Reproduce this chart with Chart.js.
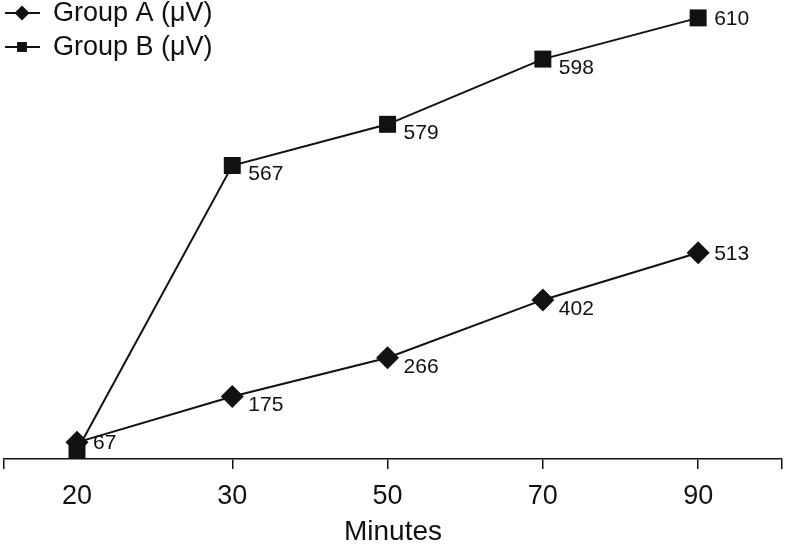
<!DOCTYPE html>
<html>
<head>
<meta charset="utf-8">
<script src="https://cdn.jsdelivr.net/npm/chart.js"></script>
<style>
  html, body { margin: 0; padding: 0; background: #fff; }
  #wrap { width: 785px; height: 546px; position: relative; }
</style>
</head>
<body>
<div id="wrap"><canvas id="chart"></canvas></div>
<script>
// Data
const minutes = ['20', '30', '50', '70', '90'];
const groupA = [67, 175, 266, 402, 513];
const groupB = [484, 567, 579, 598, 610];   // first value not printed, estimated from its height
const labelsA = ['67', '175', '266', '402', '513'];
const labelsB = ['', '567', '579', '598', '610'];
const seriesNames = ['Group A (\u03bcV)', 'Group B (\u03bcV)'];

const ink = '#111';
const FONT = '"Liberation Sans", Arial, sans-serif';

// Numbers printed next to each marker
const valueLabels = {
    id: 'valueLabels',
    afterDatasetsDraw(chart) {
        const ctx = chart.ctx;
        const texts = [labelsA, labelsB];
        ctx.save();
        ctx.fillStyle = ink;
        ctx.font = '21px ' + FONT;
        ctx.textBaseline = 'middle';
        ctx.textAlign = 'left';
        chart.data.datasets.forEach((ds, i) => {
            const pts = chart.getDatasetMeta(i).data;
            pts.forEach((p, j) => {
                const t = texts[i][j];
                if (!t) return;
                const end = j === 0 || j === pts.length - 1;
                ctx.fillText(t, p.x + 16, p.y + (end ? 1 : 9));
            });
        });
        ctx.restore();
    }
};

// Legend in the top-left corner: a short line with the marker on it
const cornerLegend = {
    id: 'cornerLegend',
    afterDraw(chart) {
        const ctx = chart.ctx;
        ctx.save();
        chart.data.datasets.forEach((ds, i) => {
            const y = 13 + i * 34;
            ctx.strokeStyle = ink;
            ctx.lineWidth = 2;
            ctx.beginPath();
            ctx.moveTo(5, y);
            ctx.lineTo(40, y);
            ctx.stroke();
            ctx.fillStyle = ink;
            Chart.helpers.drawPoint(ctx, {
                pointStyle: ds.pointStyle,
                radius: i === 0 ? 7.5 : 7,
                borderWidth: 0,
                rotation: 0
            }, 22, y);
            ctx.fillStyle = ink;
            ctx.font = '27px ' + FONT;
            ctx.textBaseline = 'middle';
            ctx.fillText(seriesNames[i], 53, y + 1);
        });
        ctx.restore();
    }
};

const xMin = -0.47, xMax = 4.54;

new Chart(document.getElementById('chart'), {
    type: 'line',
    data: {
        datasets: [
            {
                label: seriesNames[0],
                data: groupA.map((v, i) => ({ x: i, y: v })),
                yAxisID: 'yA',
                borderColor: ink,
                borderWidth: 2,
                pointStyle: 'rectRot',
                pointRadius: 11.5,
                pointBackgroundColor: ink,
                pointBorderWidth: 0,
                clip: false,
                tension: 0
            },
            {
                label: seriesNames[1],
                data: groupB.map((v, i) => ({ x: i, y: v })),
                yAxisID: 'yB',
                borderColor: ink,
                borderWidth: 2,
                pointStyle: 'rect',
                pointRadius: 12,
                pointBackgroundColor: ink,
                pointBorderWidth: 0,
                clip: false,
                tension: 0
            }
        ]
    },
    options: {
        responsive: true,
        maintainAspectRatio: false,
        animation: false,
        layout: { autoPadding: false, padding: { left: 4, right: 3, top: 10, bottom: 0 } },
        plugins: {
            legend: { display: false },
            tooltip: { enabled: false }
        },
        scales: {
            x: {
                type: 'linear',
                min: xMin,
                max: xMax,
                afterBuildTicks: s => {
                    s.ticks = [xMin, 0, 1, 2, 3, 4, xMax].map(v => ({ value: v }));
                },
                afterFit: s => {
                    s.height = 87;
                    s.paddingLeft = 0;
                    s.paddingRight = 0;
                },
                border: { display: true, color: ink, width: 1.5 },
                grid: {
                    drawOnChartArea: false,
                    drawTicks: true,
                    tickLength: 10,
                    lineWidth: 1.5,
                    color: c => (c.tick && c.tick.value === 0 ? 'rgba(0,0,0,0)' : ink)
                },
                ticks: {
                    autoSkip: false,
                    maxRotation: 0,
                    color: ink,
                    padding: 11,
                    font: { family: FONT, size: 27 },
                    callback: v => (Number.isInteger(v) ? minutes[v] : '')
                },
                title: {
                    display: true,
                    text: 'Minutes',
                    color: ink,
                    font: { family: FONT, size: 28, lineHeight: 1.0 },
                    padding: { top: 0, bottom: 0 }
                }
            },
            yA: {
                display: false,
                min: 27.8,
                max: 1084
            },
            yB: {
                display: false,
                min: 481.5,
                max: 612.3
            }
        }
    },
    plugins: [valueLabels, cornerLegend]
});
</script>
</body>
</html>
